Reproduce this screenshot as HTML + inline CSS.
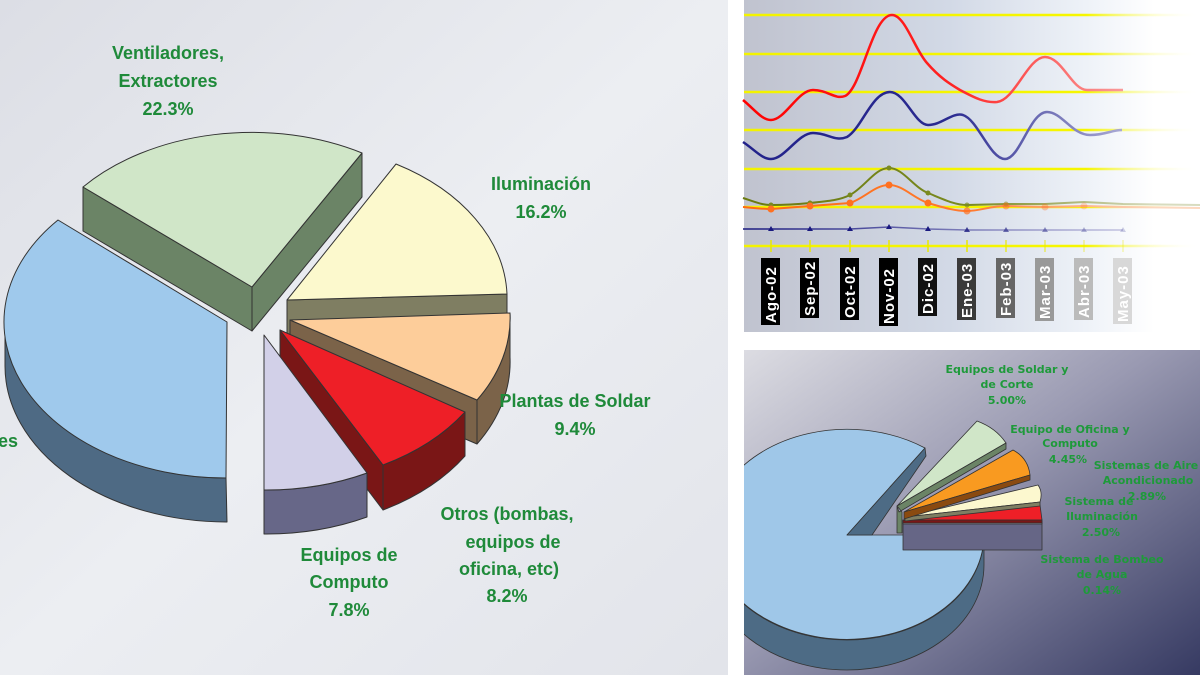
<!DOCTYPE html>
<html><head><meta charset="utf-8"><style>
html,body{margin:0;padding:0;background:#fff;}
svg{display:block;}
.l{font-family:"Liberation Sans",sans-serif;font-weight:bold;font-size:18px;fill:#1f8a3a;text-anchor:middle;}
.s{font-family:"DejaVu Sans","Liberation Sans",sans-serif;font-weight:bold;font-size:11px;fill:#1e9a3a;text-anchor:middle;}
.t{font-family:"Liberation Sans",sans-serif;font-weight:bold;font-size:15px;fill:#fff;}
</style></head><body>
<svg width="1200" height="675" viewBox="0 0 1200 675" xmlns="http://www.w3.org/2000/svg">
<defs>
<linearGradient id="bgL" x1="0" y1="0" x2="1" y2="1"><stop offset="0" stop-color="#dcdee5"/><stop offset="0.5" stop-color="#eceef2"/><stop offset="1" stop-color="#e2e4ea"/></linearGradient>
<linearGradient id="bgTR" x1="744" y1="0" x2="1200" y2="0" gradientUnits="userSpaceOnUse"><stop offset="0" stop-color="#c0c3cf"/><stop offset="0.45" stop-color="#d2d9e6"/><stop offset="0.75" stop-color="#eef2f8"/><stop offset="0.9" stop-color="#fff"/></linearGradient>
<linearGradient id="bgBR" x1="0" y1="0" x2="1" y2="1"><stop offset="0" stop-color="#dcdce2"/><stop offset="0.45" stop-color="#9a9ab2"/><stop offset="1" stop-color="#363a62"/></linearGradient>
<linearGradient id="yl" x1="744" y1="0" x2="1200" y2="0" gradientUnits="userSpaceOnUse"><stop offset="0" stop-color="#f3f300"/><stop offset="0.75" stop-color="#f6f600"/><stop offset="1" stop-color="#fff" stop-opacity="0"/></linearGradient>
<linearGradient id="rd" x1="744" y1="0" x2="1200" y2="0" gradientUnits="userSpaceOnUse"><stop offset="0" stop-color="#f00"/><stop offset="0.45" stop-color="#f22"/><stop offset="0.85" stop-color="#f9a0a0"/></linearGradient>
<linearGradient id="bl" x1="744" y1="0" x2="1200" y2="0" gradientUnits="userSpaceOnUse"><stop offset="0" stop-color="#22228a"/><stop offset="0.45" stop-color="#2a2a90"/><stop offset="0.85" stop-color="#b0b0d8"/></linearGradient>
<linearGradient id="ol" x1="744" y1="0" x2="1200" y2="0" gradientUnits="userSpaceOnUse"><stop offset="0" stop-color="#6a7a10"/><stop offset="0.5" stop-color="#7a8a20"/><stop offset="0.9" stop-color="#d8dcc0"/></linearGradient>
<linearGradient id="or" x1="744" y1="0" x2="1200" y2="0" gradientUnits="userSpaceOnUse"><stop offset="0" stop-color="#ff6a10"/><stop offset="0.5" stop-color="#ff7a30"/><stop offset="0.9" stop-color="#fcd8c0"/></linearGradient>
<linearGradient id="nv" x1="744" y1="0" x2="1200" y2="0" gradientUnits="userSpaceOnUse"><stop offset="0" stop-color="#1a1a80"/><stop offset="0.9" stop-color="#d0d0e8"/></linearGradient>
<clipPath id="cBR"><rect x="744" y="350" width="456" height="325"/></clipPath>
</defs>

<rect x="0" y="0" width="728" height="675" fill="url(#bgL)"/>
<g stroke="#333" stroke-width="1" stroke-linejoin="round">
<path d="M5,322 L5,366 A222 156 0 0 0 227,522 L226,478 A222 156 0 0 1 5,322 Z" fill="#4e6a84"/>
<path d="M227,322 L58,220 A222 156 0 0 0 226,478 Z" fill="#9fc9ec"/>
<path d="M83,187 L83,231 L252,331 L252,287 Z" fill="#6b8466"/>
<path d="M252,287 L252,331 L362,197 L362,153 Z" fill="#6b8466"/>
<path d="M252,287 L83,187 A222 156 0 0 1 362,153 Z" fill="#d0e6c8"/>
<path d="M287,300 L507,294 L507,338 L287,344 Z" fill="#7f7e62"/>
<path d="M287,300 L396,164 A222 156 0 0 1 507,294 Z" fill="#fcf9cd"/>
<path d="M290,320 L477,400 L477,444 L290,364 Z" fill="#7b6349"/>
<path d="M510,313 A222 156 0 0 1 477,400 L477,444 A222 156 0 0 0 510,357 Z" fill="#7b6349"/>
<path d="M290,320 L510,313 A222 156 0 0 1 477,400 Z" fill="#fdcd9a"/>
<path d="M280,330 L383,465 L383,510 L280,374 Z" fill="#7a1616"/>
<path d="M465,412 A222 156 0 0 1 383,465 L383,510 A222 156 0 0 0 465,456 Z" fill="#7a1616"/>
<path d="M280,330 L465,412 A222 156 0 0 1 383,465 Z" fill="#ee1f27"/>
<path d="M367,473 A222 156 0 0 1 264,490 L264,534 A222 156 0 0 0 367,517 Z" fill="#676788"/>
<path d="M264,335 L367,473 A222 156 0 0 1 264,490 Z" fill="#d2d0e8"/>
</g>
<text class="l" x="168" y="59">Ventiladores,</text>
<text class="l" x="168" y="87">Extractores</text>
<text class="l" x="168" y="115">22.3%</text>
<text class="l" x="541" y="190">Iluminación</text>
<text class="l" x="541" y="218">16.2%</text>
<text class="l" x="575" y="407">Plantas de Soldar</text>
<text class="l" x="575" y="435">9.4%</text>
<text class="l" x="507" y="520">Otros (bombas,</text>
<text class="l" x="513" y="548">equipos de</text>
<text class="l" x="509" y="575">oficina, etc)</text>
<text class="l" x="507" y="602">8.2%</text>
<text class="l" x="349" y="561">Equipos de</text>
<text class="l" x="349" y="588">Computo</text>
<text class="l" x="349" y="616">7.8%</text>
<text class="l" x="8" y="447">es</text>

<rect x="744" y="0" width="456" height="332" fill="url(#bgTR)"/>
<g stroke="url(#yl)" stroke-width="2.5">
<line x1="744" y1="15" x2="1200" y2="15"/><line x1="744" y1="54" x2="1200" y2="54"/>
<line x1="744" y1="92" x2="1200" y2="92"/><line x1="744" y1="130" x2="1200" y2="130"/>
<line x1="744" y1="169" x2="1200" y2="169"/><line x1="744" y1="207" x2="1200" y2="207"/>
<line x1="744" y1="246" x2="1200" y2="246"/>
</g>
<g stroke="#e8e800" stroke-width="1.5">
<line x1="771" y1="240" x2="771" y2="252"/><line x1="810" y1="240" x2="810" y2="252"/><line x1="850" y1="240" x2="850" y2="252"/><line x1="889" y1="240" x2="889" y2="252"/><line x1="928" y1="240" x2="928" y2="252"/><line x1="967" y1="240" x2="967" y2="252"/><line x1="1006" y1="240" x2="1006" y2="252" opacity=".8"/><line x1="1045" y1="240" x2="1045" y2="252" opacity=".6"/><line x1="1084" y1="240" x2="1084" y2="252" opacity=".4"/><line x1="1123" y1="240" x2="1123" y2="252" opacity=".3"/>
</g>
<g fill="none" stroke-width="2.5">
<path stroke="url(#rd)" d="M743,100 C755,110 762,120 771,120 C785,120 798,90 813,90 C828,90 835,100 845,96 C862,88 872,15 892,15 C905,15 915,50 927,63 C940,78 950,84 960,90 C975,98 985,103 997,102 C1015,100 1028,57 1045,57 C1062,57 1072,90 1087,90 L1123,90"/>
<path stroke="url(#bl)" d="M743,142 C755,150 762,159 771,159 C785,159 798,133 813,133 C828,133 835,142 847,137 C862,128 872,92 890,92 C905,92 915,125 928,125 C942,125 952,112 963,115 C978,120 990,159 1005,159 C1020,159 1030,112 1047,112 C1062,112 1072,135 1090,135 C1105,135 1112,130 1122,130"/>
<path stroke="url(#ol)" stroke-width="2" d="M743,198 C755,202 762,205 771,205 C790,205 800,204 810,203 C830,201 840,200 850,195 C865,187 875,168 889,168 C903,168 913,187 928,193 C945,200 955,205 967,205 L1006,204 L1045,204 L1084,202 L1123,204 L1200,205"/>
<path stroke="url(#or)" stroke-width="2" d="M743,207 C755,208 762,209 771,209 L810,206 L850,203 C865,198 875,185 889,185 C903,185 913,198 928,203 C945,208 955,211 967,211 C980,211 990,206 1006,206 L1045,207 L1084,206 L1123,207 L1200,208"/>
<path stroke="url(#nv)" stroke-width="1.5" d="M743,229 L771,229 L810,229 L850,229 L889,227 L928,229 L967,230 L1006,230 L1045,230 L1084,230 L1123,230"/>
</g>
<g fill="#7a8a20"><circle cx="771" cy="205" r="2.5"/><circle cx="810" cy="203" r="2.5"/><circle cx="850" cy="195" r="2.5"/><circle cx="889" cy="168" r="2.5"/><circle cx="928" cy="193" r="2.5"/><circle cx="967" cy="205" r="2.5" opacity=".7"/><circle cx="1006" cy="204" r="2.5" opacity=".5"/></g>
<g fill="#ff7020"><circle cx="771" cy="209" r="3.5"/><circle cx="810" cy="206" r="3.5"/><circle cx="850" cy="203" r="3.5"/><circle cx="889" cy="185" r="3.5"/><circle cx="928" cy="203" r="3.5"/><circle cx="967" cy="211" r="3.5" opacity=".7"/><circle cx="1006" cy="206" r="3.5" opacity=".5"/><circle cx="1045" cy="207" r="3.5" opacity=".35"/><circle cx="1084" cy="206" r="3.5" opacity=".25"/></g>
<g fill="#1a1a80"><path d="M771,226 l-3,5 h6z"/><path d="M810,226 l-3,5 h6z"/><path d="M850,226 l-3,5 h6z"/><path d="M889,224 l-3,5 h6z"/><path d="M928,226 l-3,5 h6z"/><path d="M967,227 l-3,5 h6z" opacity=".8"/><path d="M1006,227 l-3,5 h6z" opacity=".6"/><path d="M1045,227 l-3,5 h6z" opacity=".45"/><path d="M1084,227 l-3,5 h6z" opacity=".3"/><path d="M1123,227 l-3,5 h6z" opacity=".2"/></g>
<g>
<rect x="761" y="258" width="19" height="67" fill="#000"/>
<rect x="800" y="258" width="19" height="60" fill="#000"/>
<rect x="840" y="258" width="19" height="62" fill="#000"/>
<rect x="879" y="258" width="19" height="68" fill="#000"/>
<rect x="918" y="258" width="19" height="58" fill="#111"/>
<rect x="957" y="258" width="19" height="62" fill="#3a3a3a"/>
<rect x="996" y="258" width="19" height="60" fill="#666"/>
<rect x="1035" y="258" width="19" height="63" fill="#999"/>
<rect x="1074" y="258" width="19" height="62" fill="#bbb"/>
<rect x="1113" y="258" width="19" height="66" fill="#d8d8d8"/>
</g>
<g letter-spacing="1">
<text class="t" transform="translate(776,323) rotate(-90)">Ago-02</text>
<text class="t" transform="translate(815,316) rotate(-90)">Sep-02</text>
<text class="t" transform="translate(855,318) rotate(-90)">Oct-02</text>
<text class="t" transform="translate(894,324) rotate(-90)">Nov-02</text>
<text class="t" transform="translate(933,314) rotate(-90)">Dic-02</text>
<text class="t" transform="translate(972,318) rotate(-90)">Ene-03</text>
<text class="t" transform="translate(1011,316) rotate(-90)">Feb-03</text>
<text class="t" transform="translate(1050,319) rotate(-90)">Mar-03</text>
<text class="t" transform="translate(1089,318) rotate(-90)">Abr-03</text>
<text class="t" transform="translate(1128,322) rotate(-90)">May-03</text>
</g>

<rect x="744" y="350" width="456" height="325" fill="url(#bgBR)"/>
<g clip-path="url(#cBR)" stroke="#333" stroke-width="0.8" stroke-linejoin="round">
<path d="M984,535 L984,565 A137 105 0 0 1 710,565 L710,535 A137 105 0 0 0 984,535 Z" fill="#4d6b85"/>
<path d="M847,535 L984,535 A137 105 0 1 1 925,448 Z" fill="#9fc7e8"/>
<path d="M847,535 L872,535 L926,456 L925,448 Z" fill="#4d6b85"/>
<path d="M903,523 L1042,523 L1042,550 L903,550 Z" fill="#666686"/>
<path d="M903,521 L1042,521 L1042,524 L903,524 Z" fill="#c8c8e0"/>
<path d="M903,520 L1040,505 L1042,520 Z" fill="#ee1f27"/>
<path d="M903,520 L1042,520 L1042,523 L903,523Z" fill="#7a1616"/>
<path d="M905,517 L1038,485 Q1043,492 1040,502 Z" fill="#fcf8cf"/>
<path d="M905,517 L1040,502 L1040,506 L905,521Z" fill="#7f7e62"/>
<path d="M904,512 L1013,450 Q1028,458 1030,475 Z" fill="#f99a20"/>
<path d="M904,512 L1030,475 L1030,480 L904,519Z" fill="#8a4a10"/>
<path d="M897,506 L977,421 Q996,428 1006,443 Z" fill="#d0e6c8"/>
<path d="M897,506 L1006,443 L1006,449 L899,512Z M897,506 L897,533 L902,533 L902,512Z" fill="#6b8466"/>
</g>
<text class="s" x="1007" y="373">Equipos de Soldar y</text>
<text class="s" x="1007" y="388">de Corte</text>
<text class="s" x="1007" y="404">5.00%</text>
<text class="s" x="1070" y="433">Equipo de Oficina y</text>
<text class="s" x="1070" y="447">Computo</text>
<text class="s" x="1068" y="463">4.45%</text>
<text class="s" x="1146" y="469">Sistemas de Aire</text>
<text class="s" x="1148" y="484">Acondicionado</text>
<text class="s" x="1147" y="500">2.89%</text>
<text class="s" x="1099" y="505">Sistema de</text>
<text class="s" x="1102" y="520">Iluminación</text>
<text class="s" x="1101" y="536">2.50%</text>
<text class="s" x="1102" y="563">Sistema de Bombeo</text>
<text class="s" x="1102" y="578">de Agua</text>
<text class="s" x="1102" y="594">0.14%</text>
</svg>
</body></html>
